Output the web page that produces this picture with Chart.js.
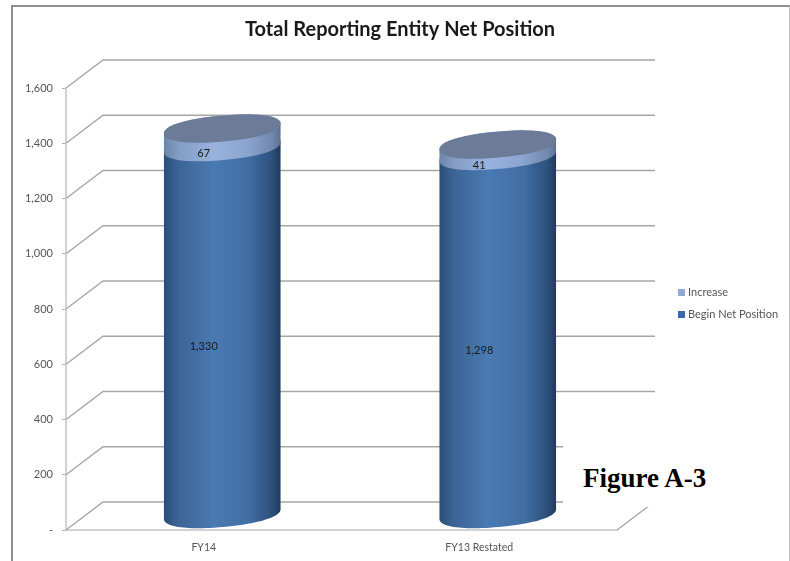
<!DOCTYPE html>
<html>
<head>
<meta charset="utf-8">
<title>Total Reporting Entity Net Position</title>
<script src="https://cdn.jsdelivr.net/npm/chart.js@4"></script>
<style>
  html, body { margin: 0; padding: 0; background: #fff; }
  #wrap { position: relative; width: 790px; height: 561px; overflow: hidden; }
  #chart { position: absolute; left: 0; top: 0; filter: blur(0.55px); }
  #frame {
    position: absolute; left: 11px; top: 5px; width: 776px; height: 560px;
    border-left: 2px solid #909090; border-top: 2px solid #909090; border-right: 2px solid #c4c4c4;
  }
  #figure {
    position: absolute; left: 563px; top: 440px; width: 150px; height: 67px; background: #fff;
    font: bold 27px "Liberation Serif", serif; color: #000; line-height: 76px; text-indent: 20px; white-space: nowrap;
  }
</style>
</head>
<body>
<div id="wrap">
  <canvas id="chart" width="790" height="561"></canvas>
  <div id="frame"></div>
  <div id="figure">Figure A-3</div>
</div>
<script>
const titleText = "Total Reporting Entity Net Position";
const categories = ["FY14", "FY13 Restated"];
const beginNetPosition = [1330, 1298];
const increase = [67, 41];
const yTickLabels = ["-", "200", "400", "600", "800", "1,000", "1,200", "1,400", "1,600"];

const FONT = "Lato, 'Open Sans', sans-serif";

// how far the back wall sits from the front plane
const WALL_DX = 37;
const WALL_DY = -28;
// cylinders stand about half way between the two
const BAR_DX = 18.5;
const BAR_DY = -15.5;
const TILT = -0.09;
const RY = 13;
const ROUNDNESS = 2.2; // a bit blunter than a true ellipse, like the original's ends

function bodyGradient(ctx, x0, x1, stops) {
  const g = ctx.createLinearGradient(x0, 0, x1, 0);
  stops.forEach(([at, color]) => g.addColorStop(at, color));
  return g;
}

const BEGIN_STOPS = [[0, "#2b4e78"], [0.13, "#3c6596"], [0.42, "#4a7ab2"], [0.72, "#416fa5"], [0.93, "#2c4f7a"], [1, "#1e3a5a"]];
const INCREASE_STOPS = [[0, "#6e84a6"], [0.13, "#849dc6"], [0.42, "#99b2de"], [0.72, "#8ba4cf"], [0.93, "#7088ad"], [1, "#5c7090"]];

// traces part of the tilted rim, from angle a0 to a1
function rim(ctx, cx, cy, rx, a0, a1) {
  const steps = 48;
  const cos = Math.cos(TILT);
  const sin = Math.sin(TILT);
  for (let s = 0; s <= steps; s++) {
    const a = a0 + ((a1 - a0) * s) / steps;
    const ca = Math.cos(a);
    const sa = Math.sin(a);
    const px = rx * Math.sign(ca) * Math.pow(Math.abs(ca), 2 / ROUNDNESS);
    const py = RY * Math.sign(sa) * Math.pow(Math.abs(sa), 2 / ROUNDNESS);
    ctx.lineTo(cx + px * cos - py * sin, cy + px * sin + py * cos);
  }
}

function drawSegment(ctx, el, stops, withCap) {
  const rx = el.width / 2;
  const cx = el.x + BAR_DX;
  const top = el.y + BAR_DY;
  const base = el.base + BAR_DY;

  ctx.beginPath();
  rim(ctx, cx, base, rx, 0, Math.PI);
  rim(ctx, cx, top, rx, Math.PI, Math.PI * 2);
  ctx.closePath();
  ctx.fillStyle = bodyGradient(ctx, cx - rx, cx + rx, stops);
  ctx.fill();

  if (withCap) {
    ctx.beginPath();
    rim(ctx, cx, top, rx, 0, Math.PI * 2);
    ctx.closePath();
    ctx.fillStyle = "#6c7b98";
    ctx.fill();
  }
}

// back wall, cylinders, their labels, the title and the legend
const scenePlugin = {
  id: "scene",
  beforeDatasetsDraw(chart) {
    const { ctx, chartArea, scales } = chart;
    const y = scales.y;

    ctx.save();
    ctx.lineWidth = 1.4;
    ctx.strokeStyle = "#a6a6a6";
    y.ticks.forEach((tick) => {
      const py = y.getPixelForValue(tick.value);
      ctx.beginPath();
      ctx.moveTo(chartArea.left, py);
      ctx.lineTo(chartArea.left + WALL_DX, py + WALL_DY);
      ctx.lineTo(chartArea.right + WALL_DX + 1, py + WALL_DY);
      ctx.stroke();
    });
    // floor edge on the right
    ctx.beginPath();
    ctx.moveTo(chartArea.right, chartArea.bottom);
    ctx.lineTo(chartArea.right + WALL_DX, chartArea.bottom + WALL_DY);
    ctx.stroke();
    ctx.restore();

    const under = chart.getDatasetMeta(0).data;
    const over = chart.getDatasetMeta(1).data;
    under.forEach((el, i) => {
      drawSegment(ctx, el, BEGIN_STOPS, false);
      drawSegment(ctx, over[i], INCREASE_STOPS, true);
    });

    // value labels sit on the front plane
    ctx.save();
    ctx.fillStyle = "#1a1a1a";
    ctx.font = "11px " + FONT;
    ctx.textAlign = "center";
    ctx.textBaseline = "middle";
    [under, over].forEach((els, d) => {
      els.forEach((el, i) => {
        const value = chart.data.datasets[d].data[i];
        ctx.fillText(value.toLocaleString("en-US"), el.x, (el.y + el.base) / 2);
      });
    });
    ctx.restore();
  },
  beforeDatasetDraw() {
    return false; // the cylinders replace the flat bars
  },
  afterDraw(chart) {
    const { ctx } = chart;
    ctx.save();
    ctx.fillStyle = "#1a1a1a";
    ctx.font = "bold 20px " + FONT;
    ctx.textAlign = "center";
    ctx.textBaseline = "middle";
    ctx.fillText(titleText, 400, 30);

    // legend lists the top of the stack first
    ctx.font = "11px " + FONT;
    ctx.textAlign = "left";
    [[1, 292, "#8fa8d4"], [0, 314, "#3a6aa5"]].forEach(([d, ly, color]) => {
      ctx.fillStyle = color;
      ctx.fillRect(678, ly - 3, 7, 7);
      ctx.fillStyle = "#555";
      ctx.fillText(chart.data.datasets[d].label, 688, ly);
    });
    ctx.restore();
  },
};

new Chart(document.getElementById("chart").getContext("2d"), {
  type: "bar",
  data: {
    labels: categories,
    datasets: [
      { label: "Begin Net Position", data: beginNetPosition, backgroundColor: "#3a6aa5", stack: "net" },
      { label: "Increase", data: increase, backgroundColor: "#8fa8d4", stack: "net" },
    ],
  },
  plugins: [scenePlugin],
  options: {
    responsive: false,
    animation: false,
    layout: { padding: { left: 0, top: 88, right: 173, bottom: 0 } },
    datasets: { bar: { categoryPercentage: 0.85, barPercentage: 0.5 } },
    plugins: { legend: { display: false }, title: { display: false }, tooltip: { enabled: false } },
    scales: {
      x: {
        stacked: true,
        afterFit(scale) { scale.height = 31; },
        grid: { display: false },
        border: { color: "#d2d2d2", width: 2 },
        ticks: { color: "#555", font: { family: FONT, size: 10.5 }, padding: 3, maxRotation: 0 },
      },
      y: {
        stacked: true,
        min: 0,
        max: 1600,
        afterFit(scale) { scale.width = 66; },
        grid: { drawOnChartArea: false, tickLength: 4, tickColor: "#b0b0b0" },
        border: { color: "#d2d2d2", width: 2 },
        ticks: {
          stepSize: 200,
          padding: 9,
          color: "#555",
          font: { family: FONT, size: 11 },
          callback: (value, i) => yTickLabels[i],
        },
      },
    },
  },
});
</script>
</body>
</html>
